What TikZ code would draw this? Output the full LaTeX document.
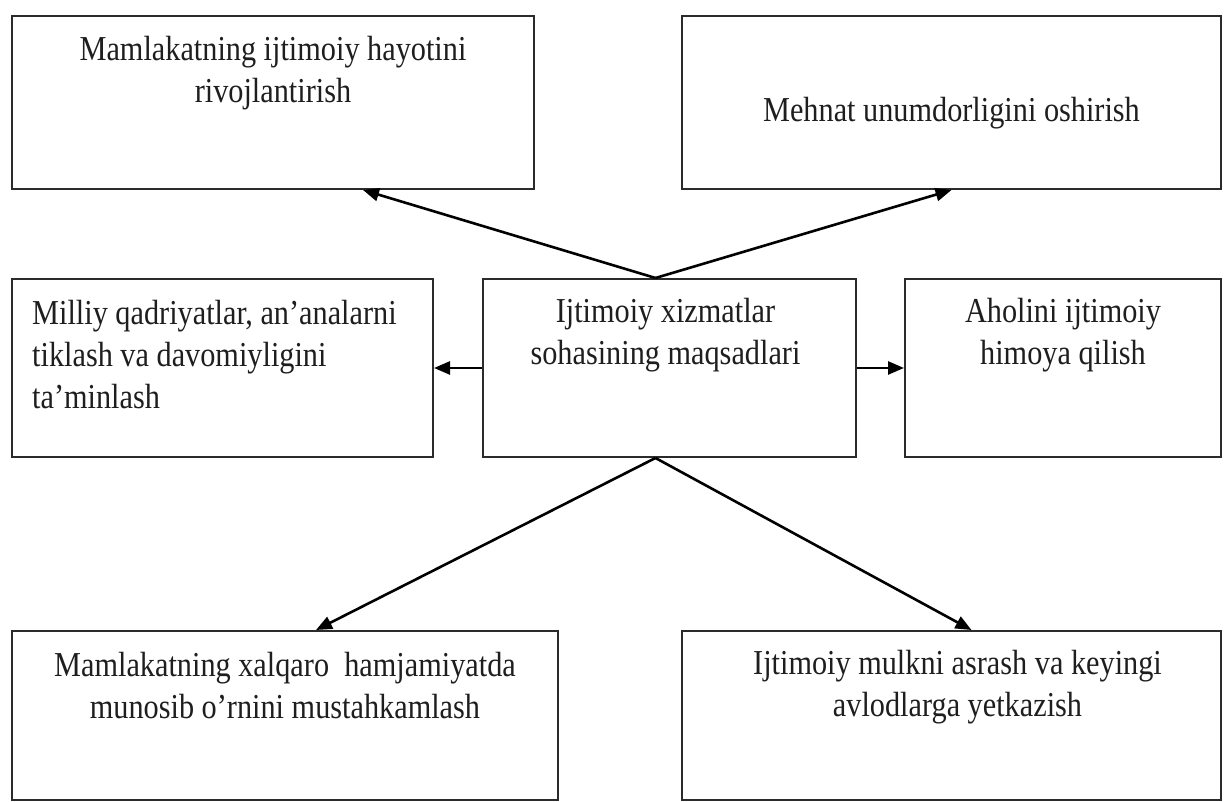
\documentclass[tikz,border=0pt]{standalone}
\usepackage{fontspec}
\setmainfont[FakeStretch=0.865]{Liberation Serif}
\usepackage{tikz}
\usetikzlibrary{arrows.meta, positioning, calc}
\definecolor{boxgray}{HTML}{2B2B2B}
\definecolor{textdark}{HTML}{1E1E1E}

\begin{document}
\begin{tikzpicture}[x=1pt, y=1pt,
  goalbox/.style={draw=boxgray, line width=2pt, rectangle, inner sep=0pt},
  goaltext/.style={inner sep=0pt, align=center, text=textdark, font=\fontsize{35}{42}\selectfont},
  goalarrow/.style={-{Triangle[length=16pt, width=13pt]}, line width=2.6pt, draw=black}]
  \useasboundingbox (0,0) rectangle (1224,802);

  % Top row
  \node[goalbox, minimum width=522pt, minimum height=173pt] (social) at (273,699.5) {};
  \node[goalbox, minimum width=539pt, minimum height=173pt] (labour) at (951.5,699.5) {};
  \node[goaltext, below=21pt of social.north] (socialtxt) {Mamlakatning ijtimoiy hayotini\\rivojlantirish};
  \node[goaltext, anchor=base] (labourtxt) at ($(labour.center)+(0,-19.5)$) {Mehnat unumdorligini oshirish};

  % Middle row
  \node[goalbox, minimum width=421pt, minimum height=178pt] (heritage) at (222.5,434) {};
  \node[goalbox, minimum width=373pt, minimum height=178pt] (goals) at (669.5,434) {};
  \node[goalbox, minimum width=316pt, minimum height=178pt] (protect) at (1063,434) {};
  \node[goaltext, align=left, below right=22pt and 21pt of heritage.north west] (heritagetxt) {Milliy qadriyatlar, an’analarni\\tiklash va davomiyligini\\ta’minlash};
  \node[goaltext, below=20pt of goals.north, xshift=-4pt] (goalstxt) {Ijtimoiy xizmatlar\\sohasining maqsadlari};
  \node[goaltext, below=20pt of protect.north] (protecttxt) {Aholini ijtimoiy\\himoya qilish};

  % Bottom row
  \node[goalbox, minimum width=546pt, minimum height=169pt] (world) at (285,86.5) {};
  \node[goalbox, minimum width=539pt, minimum height=169pt] (property) at (951.5,86.5) {};
  \node[goaltext, below=22pt of world.north] (worldtxt) {Mamlakatning xalqaro~ hamjamiyatda\\munosib o’rnini mustahkamlash};
  \node[goaltext, below=20pt of property.north, xshift=6pt] (propertytxt) {Ijtimoiy mulkni asrash va keyingi\\avlodlarga yetkazish};

  % Arrows from the centre
  \coordinate (topfork) at ($(goals.north)+(-14,0)$);
  \coordinate (botfork) at ($(goals.south)+(-14,0)$);
  \draw[goalarrow] (topfork) -- ($(social.south)+(90,0)$);
  \draw[goalarrow] (topfork) -- (labour.south);
  \draw[goalarrow] (goals.west) -- (heritage.east);
  \draw[goalarrow] (goals.east) -- (protect.west);
  \draw[goalarrow] (botfork) -- ($(world.north)+(31,0)$);
  \draw[goalarrow] (botfork) -- ($(property.north)+(20,0)$);
\end{tikzpicture}
\end{document}
